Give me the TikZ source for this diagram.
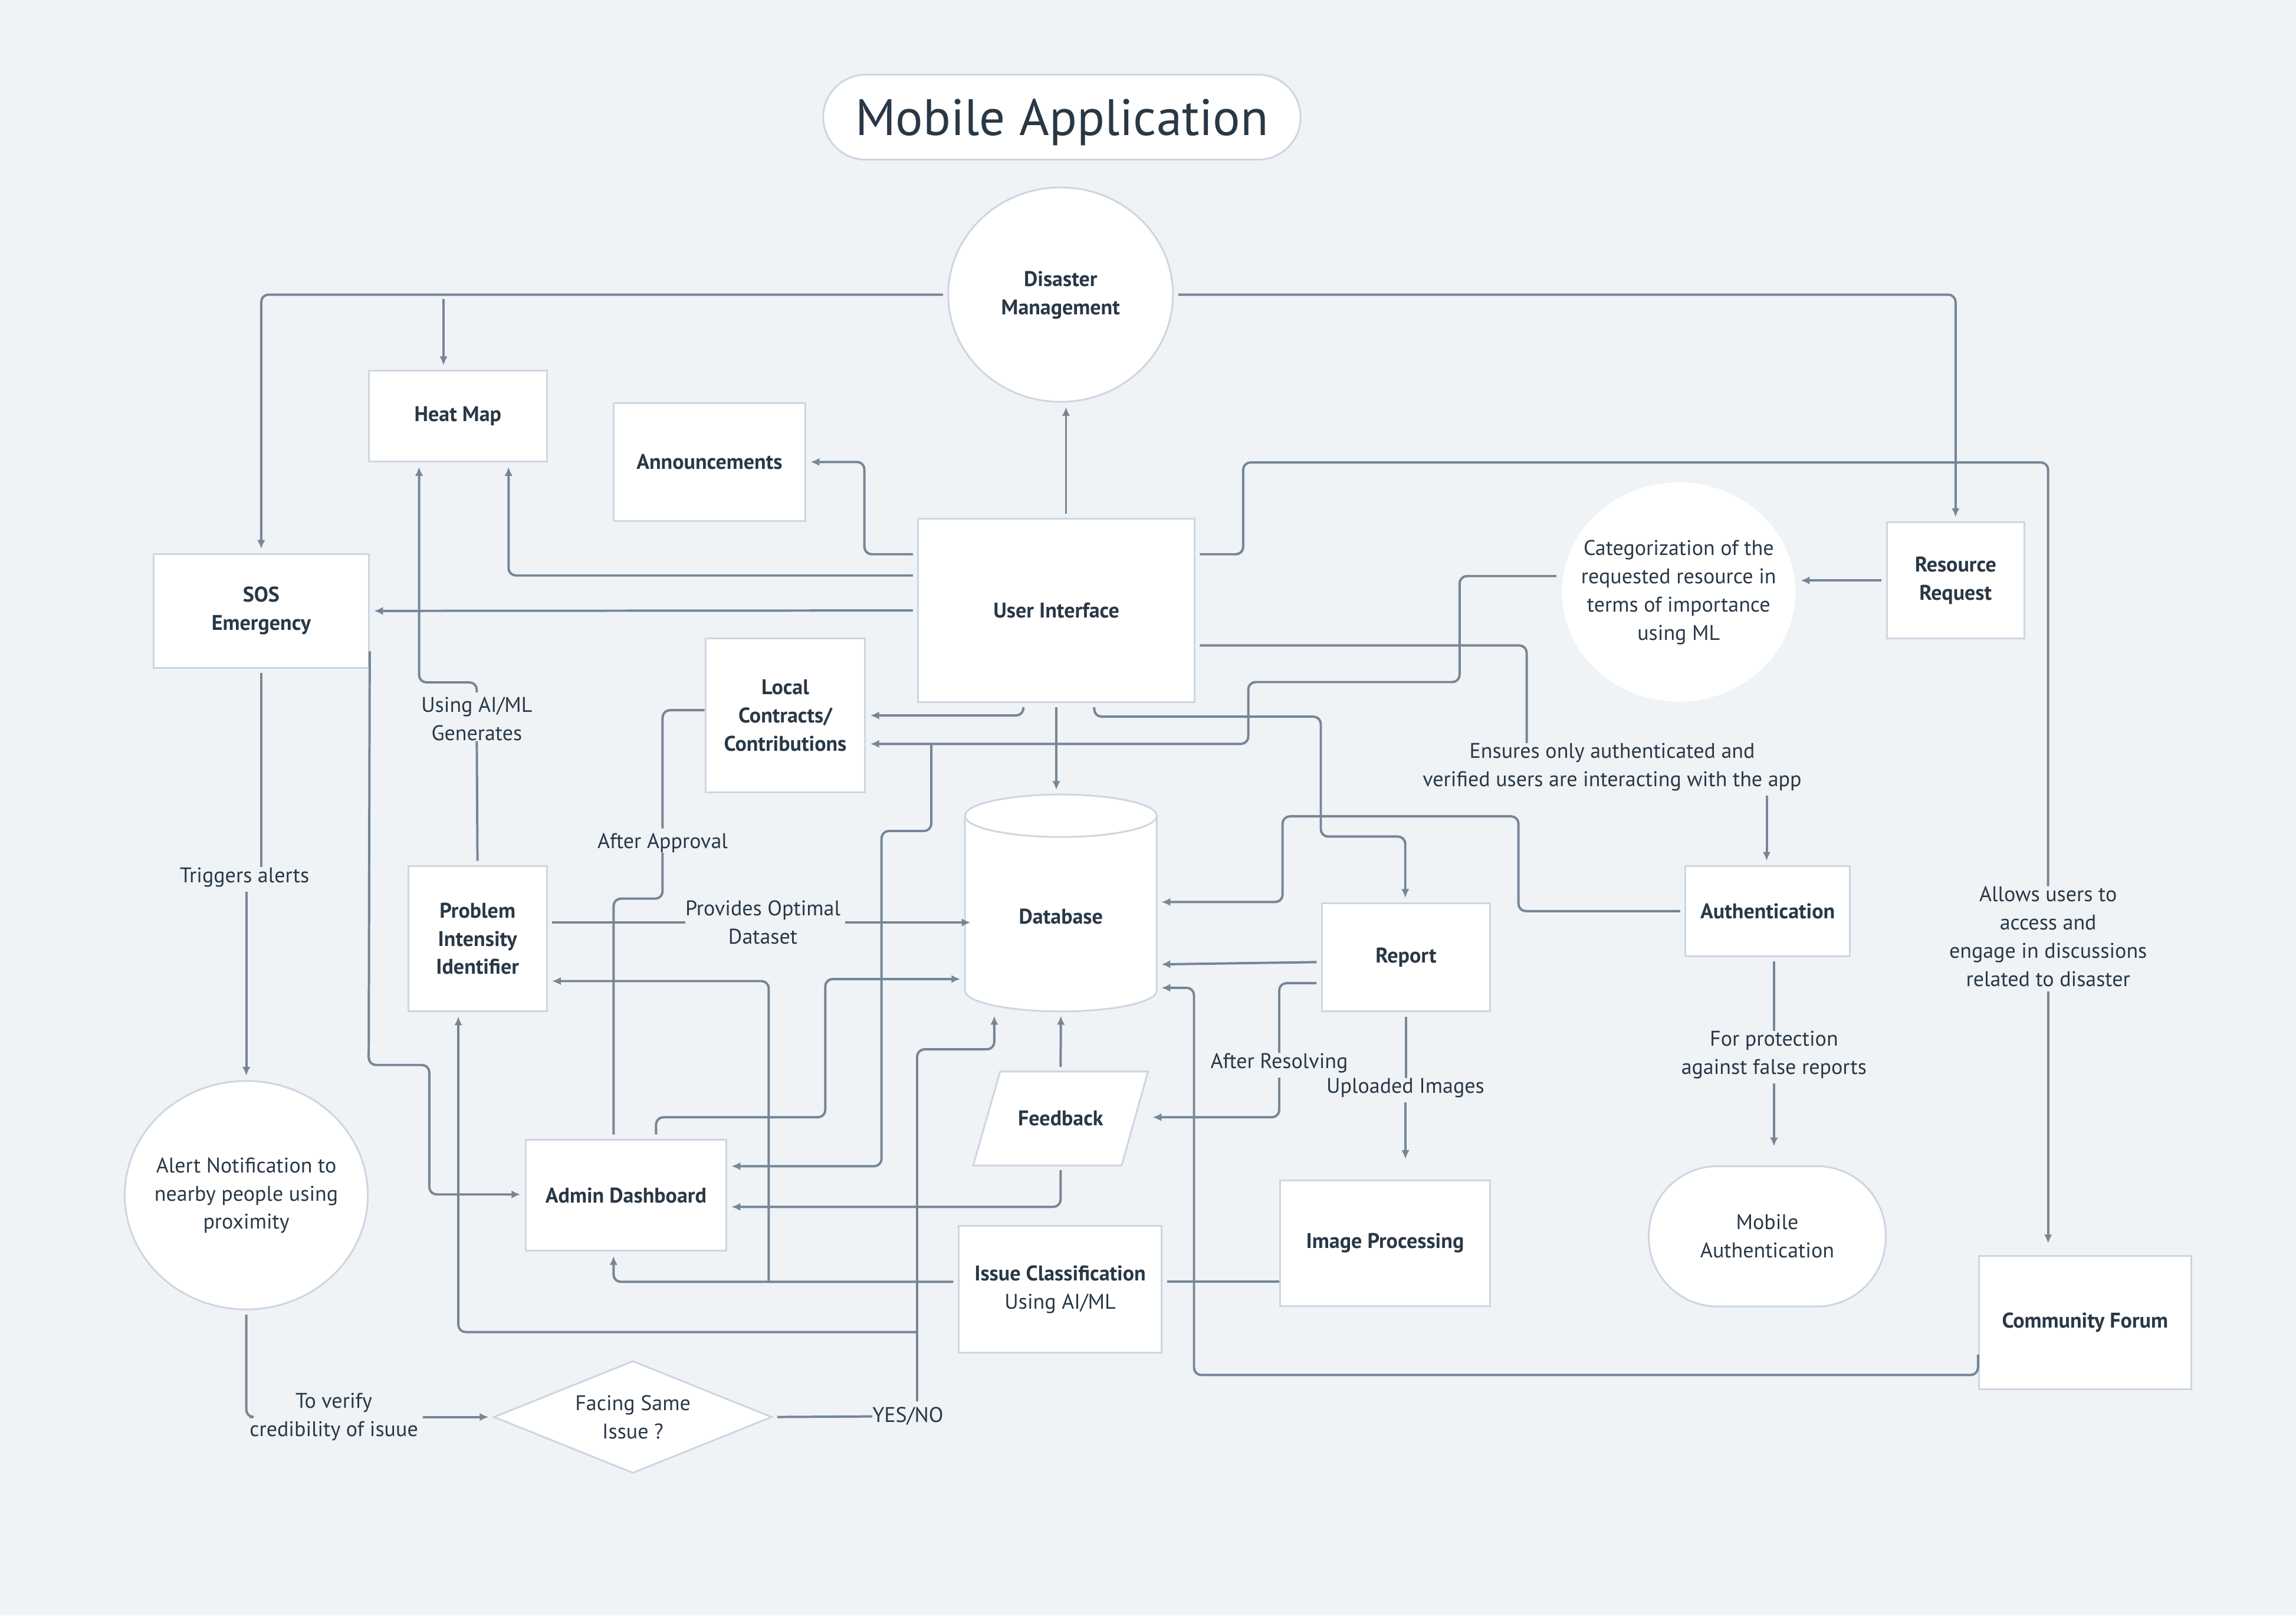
\documentclass[tikz,border=0pt]{standalone}
\usepackage{fontspec}
\setmainfont{PT Sans}
\usetikzlibrary{shapes.geometric, arrows.meta, calc}
\definecolor{bgc}{RGB}{239,243,246}
\definecolor{bdc}{RGB}{205,214,224}
\definecolor{lnc}{RGB}{118,134,150}
\definecolor{txc}{RGB}{41,56,70}
\newcommand\ztext[1]{\makebox[0pt]{\begin{tabular}{@{}c@{}}#1\end{tabular}}}
\begin{document}
\begin{tikzpicture}[x=1pt,y=-1pt,
  regf/.style={font=\fontsize{14.5}{19.3}\selectfont},
  boldf/.style={font=\fontsize{14.5}{19.3}\selectfont\bfseries},
  box/.style={draw=bdc, fill=white, line width=1.2pt, inner sep=0pt, align=center, text=txc, boldf},
  lbl/.style={regf, text=txc, align=center, inner sep=0pt},
  conn/.style={draw=lnc, line width=1.6pt, rounded corners=5pt, shorten <=3pt},
  arr/.style={-{Latex[length=6pt,width=5.5pt]}, shorten >=3pt}]
\fill[bgc] (0,0) rectangle (1568,1103.2);
\useasboundingbox (0,0) rectangle (1568,1103.2);

% direct shapes: database cylinder and feedback parallelogram
\path[fill=white, draw=bdc, line width=1.2pt] (659,557.1) -- (659,676.5)
  arc[start angle=180, end angle=360, x radius=65.5pt, y radius=14.2pt]
  -- (790,557.1) arc[start angle=0, end angle=180, x radius=65.5pt, y radius=14.5pt] -- cycle;
\draw[bdc, line width=1.2pt] (659,557.1) arc[start angle=180, end angle=360, x radius=65.5pt, y radius=14.5pt];
\path[fill=white, draw=bdc, line width=1.2pt] (664.6,795.9) -- (683,731.8) -- (784,731.8) -- (766,795.9) -- cycle;

% title
\node[box, rounded corners=29pt, minimum width=326pt, minimum height=58pt, font=\fontsize{35}{40}\selectfont, text height=24.5pt, text depth=0pt] (title) at (725.2,80) {Mobile Application};

% nodes
\node[box, ellipse, minimum width=153.5pt, minimum height=146.4pt] (dm) at (724.3,201.2) {\ztext{Disaster\\Management}};
\node[box, minimum width=121.4pt, minimum height=62.3pt] (heat) at (312.7,284.2) {Heat Map};
\node[box, minimum width=131pt, minimum height=80.6pt] (ann) at (484.5,315.5) {Announcements};
\node[box, minimum width=188.7pt, minimum height=125pt] (ui) at (721.4,416.9) {User Interface};
\node[box, minimum width=147pt, minimum height=77.6pt] (sos) at (178.4,417.2) {SOS\\Emergency};
\node[box, ellipse, draw=none, regf, minimum width=159.6pt, minimum height=149.8pt] (cat) at (1146.4,404.3) {\ztext{Categorization of the\\requested resource in\\terms of importance\\using ML}};
\node[box, minimum width=94pt, minimum height=79.3pt] (rr) at (1335.5,396.4) {Resource\\Request};
\node[box, minimum width=109pt, minimum height=105pt] (lc) at (536.3,488.6) {Local\\Contracts/\\Contributions};
\node[inner sep=0pt, minimum width=131pt, minimum height=148pt] (db) at (724.5,616.6) {};
\node[boldf, text=txc, inner sep=0pt] (dbt) at (724.5,626) {Database};
\node[box, minimum width=94.6pt, minimum height=99.1pt] (pii) at (326.1,641) {Problem\\Intensity\\Identifier};
\node[box, minimum width=115pt, minimum height=74pt] (report) at (960.2,653.7) {Report};
\node[box, minimum width=112.4pt, minimum height=61.6pt] (auth) at (1207.2,622.2) {Authentication};
\node[boldf, text=txc, inner sep=0pt, minimum width=119.4pt, minimum height=64.1pt] (fb) at (724.3,763.85) {Feedback};
\node[box, minimum width=137pt, minimum height=75.8pt] (ad) at (427.5,816.3) {Admin Dashboard};
\node[box, ellipse, regf, minimum width=166pt, minimum height=156pt] (alert) at (168.2,816.2) {\ztext{Alert Notification to\\nearby people using\\proximity}};
\node[box, minimum width=138.8pt, minimum height=86.6pt] (ic) at (724,880.6) {Issue Classification\\{\mdseries Using AI/ML}};
\node[box, minimum width=143.7pt, minimum height=85.7pt] (ip) at (945.9,848.9) {Image Processing};
\node[box, rounded corners=47pt, regf, minimum width=161.8pt, minimum height=95.8pt] (ma) at (1206.9,844.3) {Mobile\\Authentication};
\node[box, minimum width=145pt, minimum height=91pt] (cf) at (1423.9,903.2) {Community Forum};
\node[box, diamond, aspect=2.5, regf, minimum width=190pt, minimum height=76.7pt] (dia) at (432.2,967.7) {Facing Same\\Issue ?};

% labels
\node[lbl] (lai) at (325.6,491) {Using AI/ML\\Generates};
\node[lbl] (ltrig) at (167,599) {Triggers alerts};
\node[lbl] (lappr) at (452.5,575.5) {After Approval};
\node[lbl] (lopt) at (521,630) {Provides Optimal\\Dataset};
\node[lbl] (lens) at (1101,524) {Ensures only authenticated and\\verified users are interacting with the app};
\node[lbl] (lallow) at (1398.7,639.6) {Allows users to\\access and\\engage in discussions\\related to disaster};
\node[lbl] (lprot) at (1211.5,720.4) {For protection\\against false reports};
\node[lbl] (lres) at (873.6,726) {After Resolving};
\node[lbl] (lupl) at (959.8,743) {Uploaded Images};
\node[lbl] (lver) at (228,967.7) {To verify\\credibility of isuue};
\node[lbl] (lyn) at (620,967.3) {YES/NO};

% junction coordinates
\coordinate (jh) at (302.9,201.2);
\coordinate (jl) at (636,508);
\coordinate (ji) at (525,875.4);
\coordinate (jy) at (626.3,957);
\coordinate (jp) at (626.3,909.7);

% connectors
\draw[conn,arr] (dm.west) -| (sos.north);
\draw[conn,arr] (jh) -- (jh |- heat.north);
\draw[conn,arr] (dm.east) -| (rr.north);
\draw[conn,arr] (728,0 |- ui.north) -- (728,0 |- dm.south);
\draw[conn,arr] (ui.west |- 0,378.5) -- (590.3,378.5) -- (590.3,0 |- ann.east) -- (ann.east);
\draw[conn,arr] (ui.west |- 0,393) -| (347.3,0 |- heat.south);
\draw[conn,arr] (ui.west) -- (sos.east);
\draw[conn] (ui.east |- 0,378.5) -- (849,378.5) -- (849,315.8) -- (lallow.north |- 0,315.8) -- (lallow.north);
\draw[conn,arr,shorten >=8pt] (lallow.south) -- (lallow.south |- cf.north);
\draw[conn,arr] (cat.west |- 0,393.4) -- (996.8,393.4) -- (996.8,465.8) -- (852.5,465.8) -- (852.5,508) -- (lc.east |- 0,508);
\draw[conn,arr,shorten <=0pt] (jl) -- (636,567.5) -- (602,567.5) -- (602,796.4) -- (ad.east |- 0,796.4);
\draw[conn,arr] (698.9,0 |- ui.south) -- (698.9,488.6) -- (lc.east |- 0,488.6);
\draw[conn,arr] (ui.south) -- (ui.south |- db.north);
\draw[conn,arr] (747.3,0 |- ui.south) -- (747.3,489.4) -- (902,489.4) -- (902,571.3) -- (959.7,571.3) -- (959.7,0 |- report.north);
\draw[conn] (ui.east |- 0,440.8) -| (lens.north -| 1042.6,0);
\draw[conn,arr] (lens.south -| 1206.5,0) -- (1206.5,0 |- auth.north);
\draw[conn,arr] (rr.west) -- (cat.east |- rr.west);
\draw[conn,arr] (auth.west) -- (1037,622.2) -- (1037,557.5) -- (875.9,557.5) -- (875.9,616) -- (db.east |- 0,616);
\draw[conn,arr] (report.west |- 0,657) -- (db.east |- 0,658.6);
\draw[conn] (report.west |- 0,671.4) -| (lres.north);
\draw[conn,arr] (lres.south) |- (fb.east |- 0,763);
\draw[conn] (report.south) -- (report.south |- lupl.north);
\draw[conn,arr,shorten >=14pt] (lupl.south) -- (lupl.south |- ip.north);
\draw[conn,arr] (fb.north) -- (db.south);
\draw[conn,arr] (fb.south) |- (ad.east |- 0,824.2);
\draw[conn,arr] (448,0 |- ad.north) -- (448,763) -- (563.6,763) -- (563.6,668.6) -- (db.west |- 0,668.6);
\draw[conn] (419,0 |- ad.north) -- (419,613.7) -- (452.5,613.7) -- (lappr.south);
\draw[conn] (lappr.north) -- (452.5,485) -- (lc.west |- 0,485);
\draw[conn] (pii.east |- 0,630) -- (lopt.west);
\draw[conn,arr,shorten >=-4pt] (lopt.east) -- (db.west |- 0,630);
\draw[conn,arr] (ic.west |- 0,875.4) -| (419,0 |- ad.south);
\draw[conn,arr,shorten <=0pt] (ji) -- (525,670) -- (pii.east |- 0,670);
\draw[conn] (ic.east |- 0,875.4) -- (ip.west |- 0,875.4);
\draw[conn] (dia.east) -- (lyn.west);
\draw[conn,arr,shorten <=0pt] (jy) -- (626.3,716.6) -- (679,716.6) -- (679,0 |- db.south);
\draw[conn,arr,shorten <=0pt] (jp) -- (313,909.7) -- (313,0 |- pii.south);
\draw[conn,arr] (cf.west |- 0,922) -- (cf.west |- 0,939) -- (815.4,939) -- (815.4,674.6) -- (db.east |- 0,674.6);
\draw[conn,arr] (sos.east |- 0,441.8) -- (251.8,727.3) -- (293.2,727.3) -- (293.2,815.7) -- (ad.west |- 0,815.7);
\draw[conn] (sos.south) -- (sos.south |- ltrig.north);
\draw[conn,arr] (alert.north |- ltrig.south) -- (alert.north);
\draw[conn] (alert.south) |- (lver.west);
\draw[conn,arr] (lver.east) -- (dia.west);
\draw[conn] (pii.north) -- (lai.south);
\draw[conn,arr] (lai.north) -- (325.6,466) -- (286.2,466) -- (286.2,0 |- heat.south);
\draw[conn] (1211.5,0 |- auth.south) -- (lprot.north);
\draw[conn,arr,shorten >=13pt] (lprot.south) -- (1211.5,0 |- ma.north);
\end{tikzpicture}
\end{document}
